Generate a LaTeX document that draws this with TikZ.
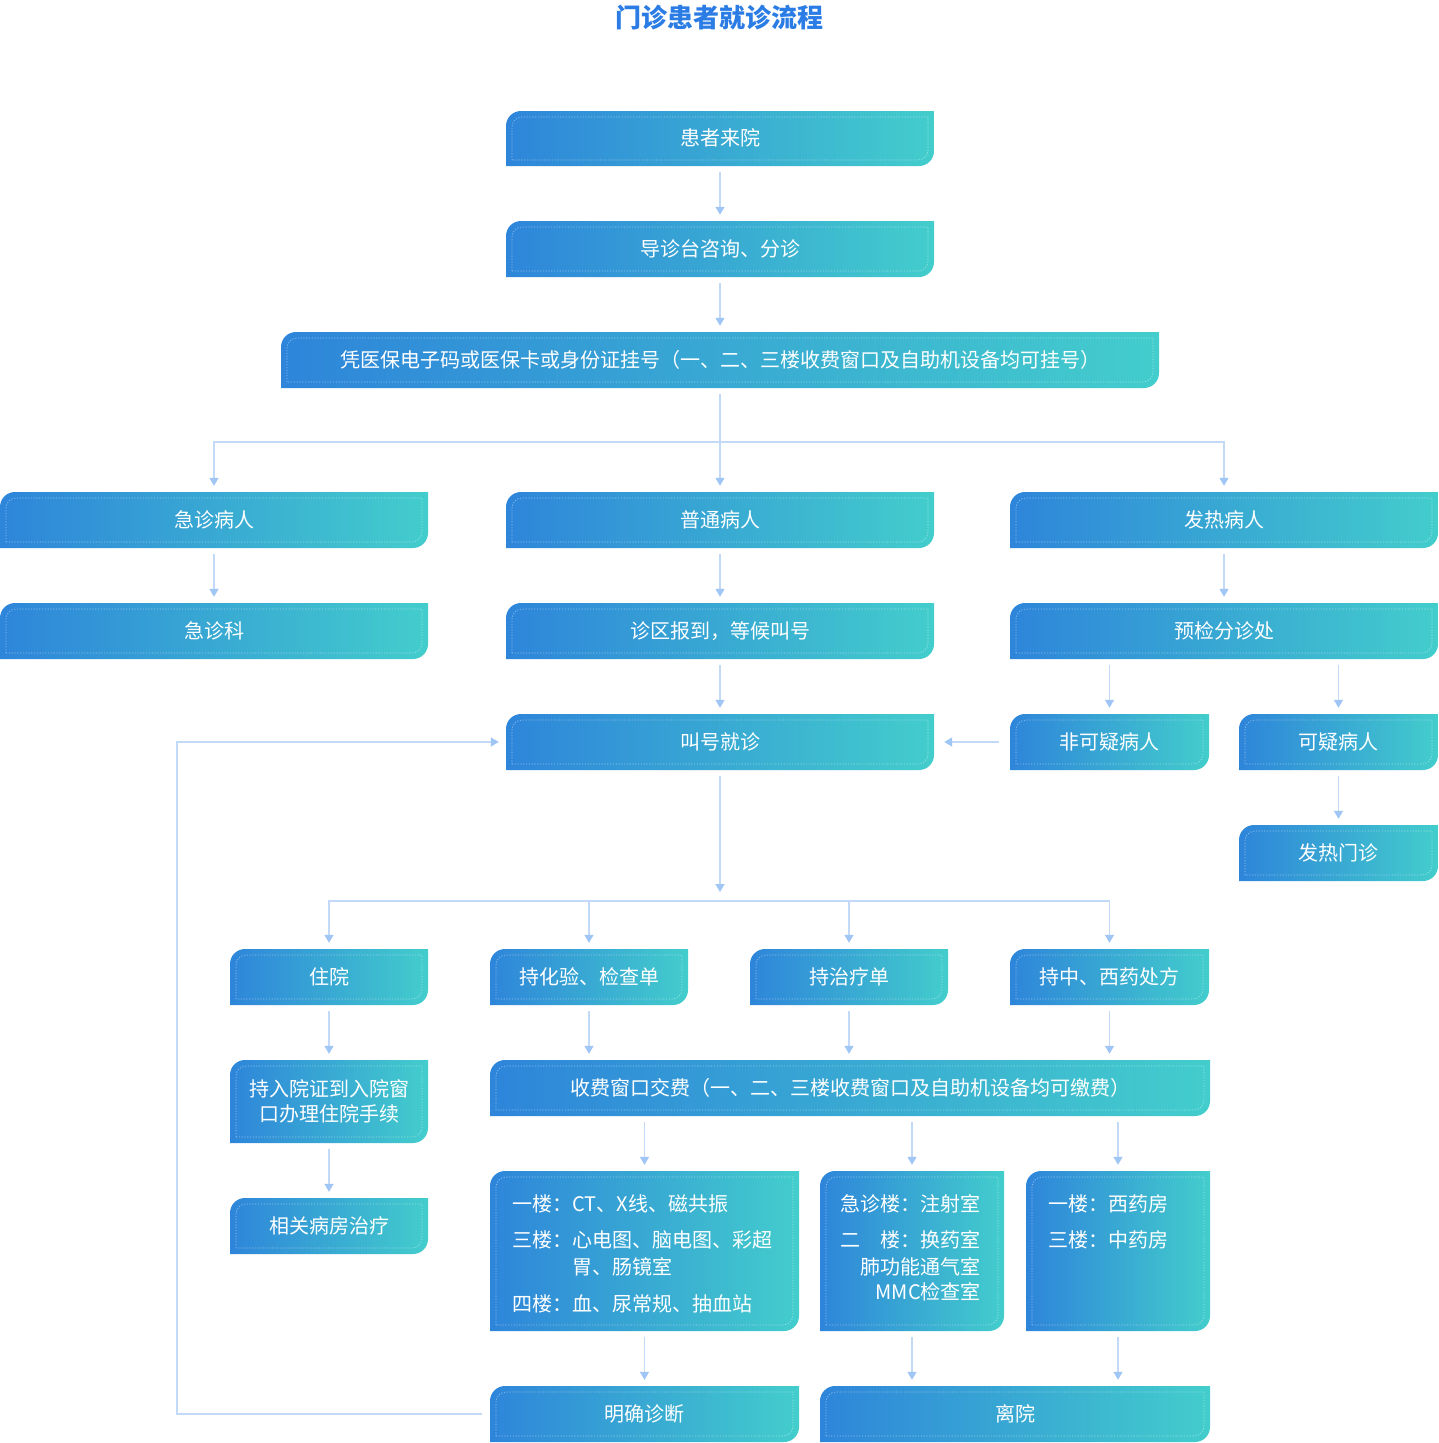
\documentclass[tikz,border=0pt]{standalone}
\usepackage{fontspec}
\setmainfont{Noto Sans CJK SC}
\usetikzlibrary{arrows.meta}
\definecolor{gA}{RGB}{46,133,218}
\definecolor{gB}{RGB}{67,205,204}
\definecolor{lineC}{RGB}{194,218,247}
\definecolor{tipC}{RGB}{160,198,245}
\definecolor{titleC}{RGB}{43,125,229}
\newcommand{\gshape}[4]{%
 \shade[left color=gA,right color=gB] (#1,-#4) -- (#1,{-#2-15}) arc[start angle=180,end angle=90,radius=15pt] -- (#3,-#2) -- (#3,{-#4+15}) arc[start angle=0,end angle=-90,radius=15pt] -- cycle;
 \draw[white,opacity=.45,line width=.7pt,dash pattern=on 1.2pt off 1.6pt] ({#1+6},{-#4+6}) -- ({#1+6},{-#2-16}) arc[start angle=180,end angle=90,radius=10pt] -- ({#3-6},{-#2-6}) -- ({#3-6},{-#4+16}) arc[start angle=0,end angle=-90,radius=10pt] -- cycle;
}
\newcommand{\gbox}[6]{\gshape{#2}{#3}{#4}{#5}%
 \node[bt,minimum width={(#4-#2)*1pt},minimum height={(#5-#3)*1pt}] (#1) at ({(#2+#4)/2},{-(#3+#5)/2}) {\raisebox{-2pt}[\height][\depth]{\begin{tabular}{@{}c@{}}#6\end{tabular}}};}
\tikzset{
 bt/.style={inner sep=0pt,text=white,font=\fontsize{20}{25}\selectfont,align=center},
 lt/.style={inner sep=0pt,text=white,font=\fontsize{20}{27}\selectfont},
 arr/.style={draw=lineC,line width=1.3pt,-{Triangle[width=9pt,length=8pt,color=tipC]},shorten >=6pt,shorten <=6pt},
}
\begin{document}
\begin{tikzpicture}[x=1pt,y=1pt]
\fill[white] (0,0) rectangle (1438,-1443);
\useasboundingbox (0,0) rectangle (1438,-1443);
\node[font=\fontsize{26}{30}\selectfont\bfseries,text=titleC,inner sep=0pt] (title) at (719,-18) {门诊患者就诊流程};
\gbox{b1}{506}{111}{934}{166}{患者来院}
\gbox{b2}{506}{221}{934}{277}{导诊台咨询、分诊}
\gbox{b3}{281}{332}{1159}{388}{凭医保电子码或医保卡或身份证挂号（一、二、三楼收费窗口及自助机设备均可挂号）}
\gbox{jz}{0}{492}{428}{548}{急诊病人}
\gbox{pt}{506}{492}{934}{548}{普通病人}
\gbox{fr}{1010}{492}{1438}{548}{发热病人}
\gbox{jzk}{0}{603}{428}{659}{急诊科}
\gbox{zq}{506}{603}{934}{659}{诊区报到，等候叫号}
\gbox{yj}{1010}{603}{1438}{659}{预检分诊处}
\gbox{jh}{506}{714}{934}{770}{叫号就诊}
\gbox{fky}{1010}{714}{1209}{770}{非可疑病人}
\gbox{ky}{1239}{714}{1438}{770}{可疑病人}
\gbox{frmz}{1239}{825}{1438}{881}{发热门诊}
\gbox{zy}{230}{949}{428}{1005}{住院}
\gbox{hy}{490}{949}{688}{1005}{持化验、检查单}
\gbox{zl}{750}{949}{948}{1005}{持治疗单}
\gbox{yf}{1010}{949}{1209}{1005}{持中、西药处方}
\gbox{rz}{230}{1060}{428}{1143}{持入院证到入院窗\\口办理住院手续}
\gbox{sf}{490}{1060}{1210}{1116}{收费窗口交费（一、二、三楼收费窗口及自助机设备均可缴费）}
\gbox{xg}{230}{1198}{428}{1254}{相关病房治疗}
\gbox{jc}{490}{1171}{799}{1331}{}
\gbox{zs}{820}{1171}{1004}{1331}{}
\gbox{yp}{1026}{1171}{1210}{1331}{}
\gbox{mq}{490}{1386}{799}{1442}{明确诊断}
\gbox{ly}{820}{1386}{1210}{1442}{离院}
% multi-line texts
\node[lt,anchor=base west] (jct) at (512,-1211) {\begin{tabular}[t]{@{}l@{}l@{}}一楼：&CT、X线、磁共振\\[9pt]三楼：&心电图、脑电图、彩超\\&胃、肠镜室\\[10pt]四楼：&血、尿常规、抽血站\end{tabular}};
\node[lt,anchor=base east] (zst) at (981,-1211) {\begin{tabular}[t]{@{}r@{}}急诊楼：注射室\\[9pt]二\hspace{1em}楼：换药室\\肺功能通气室\\[-2pt]MMC检查室\end{tabular}};
\node[lt,anchor=base west] (ypt) at (1048,-1211) {\begin{tabular}[t]{@{}l@{}}一楼：西药房\\[9pt]三楼：中药房\end{tabular}};
% connectors
\coordinate (s3) at (b3.south |- 0,-442);
\coordinate (hub) at (jh.south |- 0,-901);
\coordinate (fb) at (177,-742);
\draw[arr] (b1.south) -- (b2.north);
\draw[arr] (b2.south) -- (b3.north);
\draw[arr] (b3.south) -- (pt.north);
\draw[arr] (b3.south) -- (s3) -| (jz.north);
\draw[arr] (b3.south) -- (s3) -| (fr.north);
\draw[arr] (jz.south) -- (jzk.north);
\draw[arr] (pt.south) -- (zq.north);
\draw[arr] (fr.south) -- (yj.north);
\draw[arr] (zq.south) -- (jh.north);
\draw[arr] (yj.south -| fky.north) -- (fky.north);
\draw[arr] (yj.south -| ky.north) -- (ky.north);
\draw[arr,shorten <=11pt,shorten >=10pt] (fky.west) -- (jh.east);
\draw[arr] (ky.south) -- (frmz.north);
\draw[arr,shorten >=9pt] (jh.south) -- (hub);
\draw[arr,shorten <=0pt] (hub) -| (zy.north);
\draw[arr,shorten <=0pt] (hub) -| (hy.north);
\draw[arr,shorten <=0pt] (hub) -| (zl.north);
\draw[arr,shorten <=0pt] (hub) -| (yf.north);
\draw[arr] (zy.south) -- (rz.north);
\draw[arr] (rz.south) -- (xg.north);
\draw[arr] (hy.south) -- (hy.south |- sf.north);
\draw[arr] (zl.south) -- (zl.south |- sf.north);
\draw[arr] (yf.south) -- (yf.south |- sf.north);
\draw[arr] (sf.south -| jc.north) -- (jc.north);
\draw[arr] (sf.south -| zs.north) -- (zs.north);
\draw[arr] (sf.south -| yp.north) -- (yp.north);
\draw[arr] (jc.south) -- (mq.north);
\draw[arr] (zs.south) -- (zs.south |- ly.north);
\draw[arr] (yp.south) -- (yp.south |- ly.north);
\draw[arr,shorten <=8pt,shorten >=7pt] (mq.west) -| (fb) -- (jh.west);
\end{tikzpicture}
\end{document}
